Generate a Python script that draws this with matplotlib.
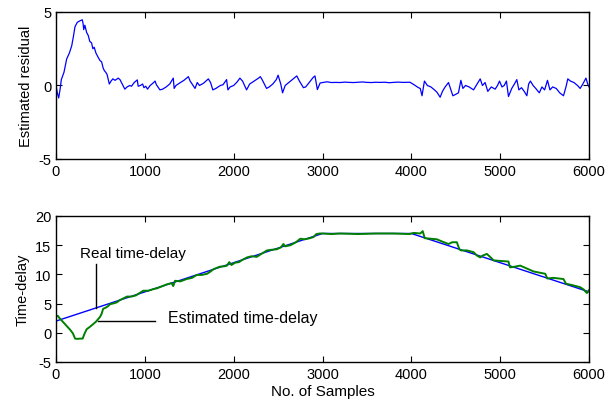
import numpy as np
import matplotlib
matplotlib.use('Agg')
import matplotlib.pyplot as plt

plt.rcParams['font.family'] = ['Liberation Sans', 'DejaVu Sans']
plt.rcParams['font.size'] = 10.5
plt.rcParams['axes.unicode_minus'] = False

# residual
res_x = [0, 15, 30, 45, 60, 90, 120, 150, 177, 195, 214, 240, 270, 296, 305, 312, 325, 345,
         363, 380, 400, 415, 430, 450, 476, 495, 514, 530, 545, 560, 575, 600, 620, 640, 665,
         700, 720, 745, 775, 800, 830, 850, 880, 915, 925, 950, 975, 990, 1010, 1030, 1060,
         1090, 1115, 1130, 1170, 1200, 1240, 1280, 1320, 1330, 1350, 1400, 1440, 1490, 1510,
         1565, 1590, 1615, 1660, 1715, 1740, 1765, 1800, 1850, 1880, 1920, 1935, 1960, 2000,
         2040, 2070, 2100, 2145, 2180, 2230, 2280, 2300, 2320, 2370, 2400, 2440, 2480, 2500,
         2530, 2550, 2580, 2620, 2660, 2710, 2740, 2785, 2810, 2850, 2895, 2915, 2942, 2973,
         3000, 3050, 3100, 3150, 3200, 3250, 3300, 3350, 3400, 3450, 3500, 3550, 3600, 3650,
         3700, 3750, 3800, 3850, 3900, 3950, 3985, 4030, 4080, 4100, 4120, 4147, 4180, 4220,
         4260, 4287, 4324, 4350, 4380, 4418, 4440, 4467, 4500, 4530, 4557, 4580, 4610, 4650,
         4700, 4740, 4775, 4800, 4830, 4860, 4900, 4943, 4970, 4992, 5020, 5045, 5070, 5093,
         5130, 5160, 5187, 5210, 5240, 5270, 5300, 5320, 5340, 5370, 5400, 5440, 5470, 5500,
         5532, 5560, 5590, 5630, 5670, 5712, 5740, 5761, 5790, 5830, 5870, 5900, 5930, 5965,
         5985, 6000]
res_y = [0.0, -0.5, -0.85, -0.3, 0.4, 0.9, 1.8, 2.2, 2.7, 3.3, 4.0, 4.3, 4.4, 4.47, 4.2, 3.8,
         4.1, 3.6, 3.4, 3.0, 2.9, 2.5, 2.6, 2.2, 1.9, 1.7, 1.6, 1.2, 1.0, 0.9, 0.75, 0.1, 0.3,
         0.45, 0.35, 0.5, 0.4, 0.1, -0.25, -0.1, 0.0, -0.05, 0.2, 0.38, -0.05, 0.0, 0.1, -0.15,
         -0.05, -0.25, 0.0, 0.15, 0.3, 0.05, -0.3, -0.25, -0.1, 0.1, 0.5, -0.2, 0.0, 0.2, 0.35,
         0.6, 0.3, -0.2, 0.2, 0.0, 0.15, 0.45, 0.2, -0.3, -0.2, 0.0, 0.05, 0.4, -0.3, -0.1, 0.0,
         0.25, 0.5, 0.3, -0.3, 0.1, 0.3, 0.5, 0.6, 0.4, -0.2, -0.1, 0.1, 0.4, 0.7, 0.1, -0.5,
         0.0, 0.2, 0.4, 0.65, 0.3, -0.15, -0.1, 0.2, 0.55, 0.65, -0.28, 0.17,
         0.2, 0.25, 0.2, 0.21, 0.2, 0.23, 0.21, 0.2, 0.22, 0.24, 0.21, 0.2, 0.22, 0.21,
         0.22, 0.19, 0.21, 0.23, 0.21, 0.22, 0.22, 0.05, -0.15, -0.2, -0.7, 0.3, 0.0, -0.1,
         -0.3, -0.45, -0.8, -0.4, -0.1, 0.2, -0.2, -0.7, -0.6, -0.5, 0.35, -0.2, 0.0, -0.1,
         -0.3, 0.1, 0.45, 0.0, 0.2, -0.4, -0.1, -0.25, 0.0, 0.3, -0.1, 0.0, 0.3, -0.75,
         -0.2, 0.1, 0.4, -0.3, -0.15, -0.4, -0.7, 0.1, 0.3, 0.0, -0.2, -0.5, -0.1, -0.3,
         0.35, -0.3, -0.1, -0.2, -0.5, -0.7, -0.1, 0.45, 0.3, 0.2, 0.0, -0.2, 0.1, 0.5,
         0.1, -0.1]

# real time-delay (blue)
real_x = [0, 3000, 4000, 6000]
real_y = [2, 17, 17, 7]

# estimated time-delay (green)
est_x = [0, 20, 40, 70, 100, 130, 160, 190, 215, 240, 270, 300, 320, 345, 380, 420, 450, 495,
         515, 530, 560, 590, 608, 640, 683, 720, 760, 800, 850, 900, 940, 983, 1040, 1100,
         1134, 1200, 1250, 1300, 1320, 1340, 1400, 1470, 1530, 1585, 1640, 1700, 1740, 1775,
         1840, 1900, 1925, 1950, 1975, 2016, 2060, 2100, 2150, 2200, 2260, 2300, 2375, 2420,
         2485, 2530, 2560, 2580, 2640, 2700, 2750, 2800, 2860, 2900, 2930, 2970, 3000, 3100,
         3200, 3400, 3600, 3800, 3980, 4024, 4100, 4128, 4150, 4220, 4287, 4350, 4418, 4460,
         4512, 4540, 4560, 4625, 4700, 4740, 4775, 4800, 4850, 4900, 4925, 5000, 5093, 5110,
         5160, 5225, 5300, 5375, 5440, 5507, 5530, 5600, 5712, 5740, 5800, 5900, 5940, 5975,
         6000]
est_y = [2.8, 2.9, 2.5, 2.0, 1.5, 1.0, 0.5, -0.1, -1.0, -1.05, -1.0, -1.0, -0.2, 0.6, 1.0,
         1.5, 1.9, 2.7, 3.3, 4.1, 4.3, 4.6, 4.9, 5.0, 5.2, 5.6, 5.9, 6.2, 6.2, 6.4, 6.8, 7.2,
         7.2, 7.5, 7.6, 8.0, 8.3, 8.5, 8.0, 8.9, 8.8, 9.2, 9.4, 9.9, 9.9, 10.1, 10.5, 10.9,
         11.3, 11.4, 11.5, 12.1, 11.6, 12.0, 12.1, 12.5, 12.9, 13.1, 13.0, 13.4, 14.1, 14.2,
         14.3, 14.6, 15.2, 14.8, 15.0, 15.5, 16.1, 16.0, 16.2, 16.4, 16.9, 17.0, 17.0, 16.9,
         17.0, 16.9, 17.0, 17.0, 16.9, 17.1, 17.0, 17.4, 16.2, 16.1, 16.0, 15.6, 15.2, 15.5,
         15.5, 14.3, 14.1, 14.1, 13.8, 13.2, 12.9, 13.2, 13.5, 12.8, 12.4, 12.3, 12.2, 11.2,
         11.3, 11.5, 11.0, 10.5, 10.3, 10.1, 9.3, 9.4, 9.2, 8.4, 8.2, 7.8, 7.4, 6.8,
         7.3]

x_ticks = [0, 1000, 2000, 3000, 4000, 5000, 6000]

fig = plt.figure(figsize=(6.12, 4.06), dpi=100)
ax1 = fig.add_axes([0.0915, 0.606, 0.871, 0.362])
ax2 = fig.add_axes([0.0915, 0.106, 0.871, 0.3596])

ax1.plot(res_x, res_y, color='#0000ff', lw=0.9)
ax1.set_xlim(0, 6000)
ax1.set_ylim(-5, 5)
ax1.set_yticks([-5, 0, 5])
ax1.set_xticks(x_ticks)
ax1.set_ylabel('Estimated residual', labelpad=4)

ax2.plot(real_x, real_y, color='#0000ff', lw=1.0)
ax2.plot(est_x, est_y, color='#008000', lw=1.4)
ax2.set_xlim(0, 6000)
ax2.set_ylim(-5, 20)
ax2.set_yticks([-5, 0, 5, 10, 15, 20])
ax2.set_xticks(x_ticks)
ax2.set_ylabel('Time-delay', labelpad=4)
ax2.set_xlabel('No. of Samples', labelpad=2, fontsize=11)

# annotations
ax2.plot([450, 450], [4.25, 11.8], color='black', lw=1)
ax2.text(270, 13.6, 'Real time-delay', fontsize=11, va='center')
ax2.plot([475, 1115], [2.05, 2.05], color='black', lw=1)
ax2.text(1260, 2.6, 'Estimated time-delay', fontsize=11.5, va='center')

for ax in (ax1, ax2):
    ax.tick_params(direction='in', top=True, right=True, length=4, labelsize=10.5)
    for s in ax.spines.values():
        s.set_linewidth(1.0)

plt.savefig('out.png', dpi=100)
